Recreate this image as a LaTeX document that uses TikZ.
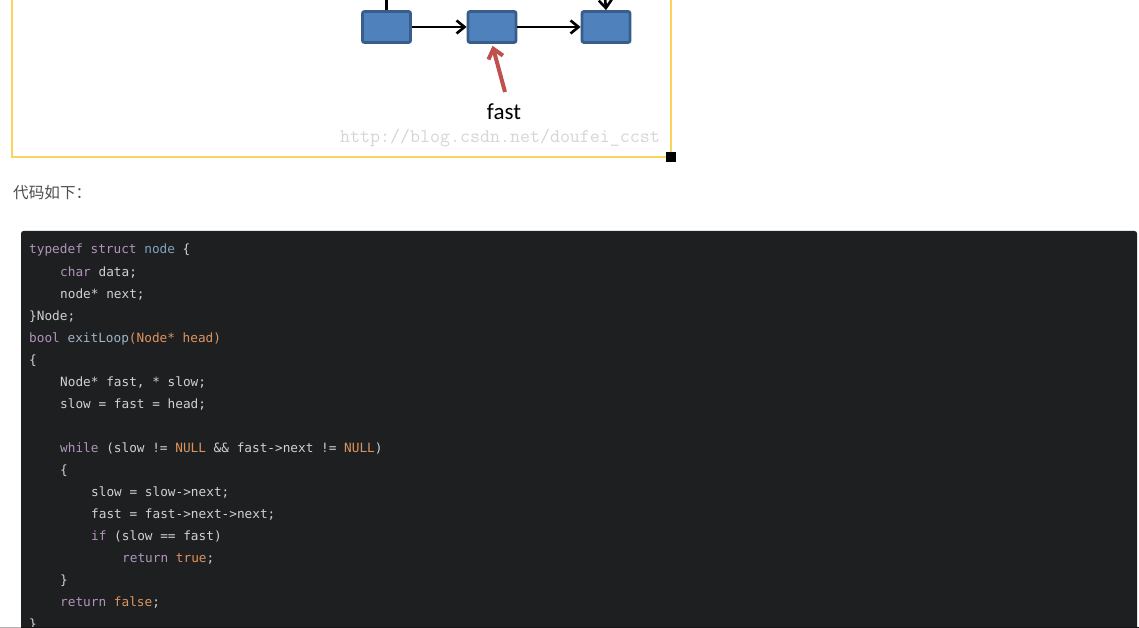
\documentclass[tikz,border=0pt]{standalone}
\usepackage{fontspec}
\usetikzlibrary{arrows.meta}
\newfontfamily\codefont{DejaVu Sans Mono}
\newfontfamily\cjkfont{Noto Sans CJK SC}
\newfontfamily\labelfont{Carlito}
\definecolor{kwc}{HTML}{B294BB}
\definecolor{tyc}{HTML}{81A2BE}
\definecolor{fnc}{HTML}{9EB5C8}
\definecolor{orc}{HTML}{DE935F}
\definecolor{plc}{HTML}{CFD2D0}
\definecolor{codebg}{HTML}{1D1F21}
\definecolor{boxfill}{HTML}{4F81BD}
\definecolor{boxline}{HTML}{385D8A}
\definecolor{redarr}{HTML}{C0504D}
\definecolor{frameyel}{HTML}{FCD35B}
\definecolor{wmgray}{HTML}{D6D6D6}
\definecolor{cjkgray}{HTML}{4D4D4D}
\newcommand\Ckw[1]{\textcolor{kwc}{#1}}
\newcommand\Cty[1]{\textcolor{tyc}{#1}}
\newcommand\Cfn[1]{\textcolor{fnc}{#1}}
\newcommand\Cor[1]{\textcolor{orc}{#1}}
\tikzset{
  listbox/.style={draw=boxline, fill=boxfill, line width=2.8pt, rounded corners=2pt,
    minimum width=48pt, minimum height=31pt, inner sep=0pt},
  blackline/.style={draw=black, line width=2.6pt},
  blackarrow/.style={blackline, -{Straight Barb[length=8pt,width=13pt]}},
  redarrow/.style={draw=redarr, line width=4pt, -{Straight Barb[length=9pt,width=15pt]}},
  codeline/.style={anchor=base west, inner sep=0pt, text=plc,
    font=\codefont\fontsize{12.75}{13}\selectfont},
}
\begin{document}
\begin{tikzpicture}[x=1pt,y=-1pt]
\useasboundingbox (0,0) rectangle (1139,628);
\fill[white] (0,0) rectangle (1139,628);

% yellow frame of the figure
\draw[frameyel, line width=2pt] (12,-5) -- (12,157) -- (671,157) -- (671,-5);
\fill[black] (666,152) rectangle (676,162);

% linked list boxes
\node[listbox] (b1) at (386.5,27) {};
\node[listbox] (b2) at (492,27) {};
\node[listbox] (b3) at (606,27) {};
\coordinate (t1) at (386.5,-3);
\coordinate (t3) at (605,-3);
\draw[blackline] (t1) -- (b1.north);
\draw[blackarrow] (t3) -- (b3.north);
\draw[blackarrow] (b1.east) -- (b2.west);
\draw[blackarrow] (b2.east) -- (b3.west);

% fast pointer
\node[anchor=base, inner sep=0pt, font=\labelfont\fontsize{23}{23}\selectfont] (fastlbl) at (504,120) {fast};
\coordinate (fs) at (505,92);
\draw[redarrow, shorten >=2pt] (fs) -- (b2.south);

% watermark
\node[anchor=base west, inner sep=0pt, text=wmgray, font=\ttfamily\fontsize{19.4}{20}\selectfont] (wm) at (340,143) {http://blog.csdn.net/doufei\_ccst};

% caption
\node[anchor=west, inner sep=0pt, text=cjkgray, font=\cjkfont\fontsize{15.6}{16}\selectfont] (cap) at (13,193) {代码如下：};

% code block
\fill[codebg, rounded corners=2.5pt] (21,231) rectangle (1137,645);
\node[codeline] (c0) at (29,254) {\Ckw{typedef} \Ckw{struct} \Cty{node} \{};
\node[codeline] (c1) at (60,276) {\Ckw{char} data;};
\node[codeline] (c2) at (60,298) {node* next;};
\node[codeline] (c3) at (29,320) {\}Node;};
\node[codeline] (c4) at (29,342) {\Ckw{bool} \Cfn{exitLoop}\Cor{(Node* head)}};
\node[codeline] (c5) at (29,364) {\{};
\node[codeline] (c6) at (60,386) {Node* fast, * slow;};
\node[codeline] (c7) at (60,408) {slow = fast = head;};
\node[codeline] (c9) at (60,452) {\Ckw{while} (slow != \Cor{NULL} \&\& fast->next != \Cor{NULL})};
\node[codeline] (c10) at (60,474) {\{};
\node[codeline] (c11) at (91,496) {slow = slow->next;};
\node[codeline] (c12) at (91,518) {fast = fast->next->next;};
\node[codeline] (c13) at (91,540) {\Ckw{if} (slow == fast)};
\node[codeline] (c14) at (122,562) {\Ckw{return} \Cor{true};};
\node[codeline] (c15) at (60,584) {\}};
\node[codeline] (c16) at (60,606) {\Ckw{return} \Cor{false};};
\node[codeline] (c17) at (29,628) {\}};

% bottom edge
\draw[gray!60, line width=1.5pt] (0,627.3) -- (21,627.3);
\draw[black!92, line width=1.5pt] (21,627.3) -- (1139,627.3);
\end{tikzpicture}
\end{document}
